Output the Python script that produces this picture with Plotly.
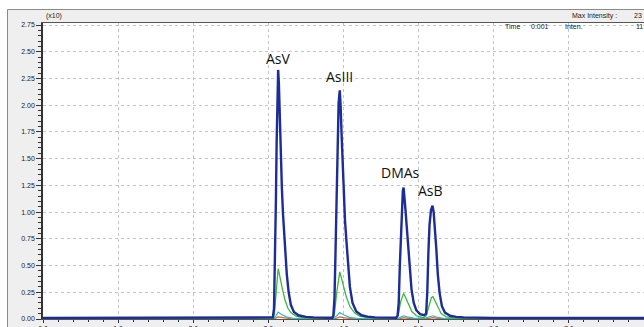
import plotly.graph_objects as go

# ---- data (time in min, intensity x10) ----
t_total = [0.0, 1.0, 2.0, 3.0, 3.06, 3.075, 3.088, 3.10, 3.11, 3.12, 3.13, 3.14, 3.15, 3.165,
           3.18, 3.195, 3.21, 3.225, 3.245, 3.27, 3.30, 3.34, 3.40, 3.50, 3.60, 3.80,
           3.85, 3.865, 3.88, 3.893, 3.905, 3.92, 3.935, 3.95, 3.96, 3.975, 3.99, 4.005, 4.02,
           4.04, 4.06, 4.085, 4.12, 4.17, 4.24, 4.32, 4.42, 4.55,
           4.70, 4.72, 4.735, 4.75, 4.765, 4.78, 4.79, 4.80, 4.81, 4.825, 4.84, 4.86, 4.88, 4.905,
           4.935, 4.97, 5.02, 5.07,
           5.10, 5.115, 5.13, 5.145, 5.165, 5.185, 5.20, 5.215, 5.235, 5.255, 5.28, 5.31, 5.35,
           5.42, 5.50, 5.60, 6.0, 7.0, 8.0]
y_total = [0.01, 0.01, 0.01, 0.01, 0.015, 0.10, 0.50, 1.10, 1.65, 2.10, 2.33, 2.20, 1.92, 1.55,
           1.22, 0.98, 0.80, 0.62, 0.42, 0.25, 0.13, 0.065, 0.035, 0.02, 0.015, 0.012,
           0.012, 0.03, 0.20, 0.60, 1.10, 1.65, 2.02, 2.14, 2.02, 1.72, 1.40, 1.12, 0.92,
           0.72, 0.50, 0.30, 0.15, 0.07, 0.035, 0.022, 0.015, 0.012,
           0.012, 0.03, 0.15, 0.50, 0.85, 1.08, 1.20, 1.23, 1.17, 1.02, 0.88, 0.68, 0.46, 0.28,
           0.15, 0.08, 0.045, 0.035,
           0.05, 0.25, 0.62, 0.88, 1.02, 1.06, 1.00, 0.88, 0.66, 0.42, 0.24, 0.12, 0.06,
           0.03, 0.02, 0.015, 0.01, 0.01, 0.01]

t_green = [0.0, 3.06, 3.08, 3.10, 3.12, 3.13, 3.14, 3.16, 3.19, 3.22, 3.26, 3.30, 3.36, 3.45, 3.60,
           3.86, 3.88, 3.91, 3.94, 3.95, 3.97, 4.00, 4.04, 4.09, 4.15, 4.22, 4.35,
           4.70, 4.73, 4.76, 4.79, 4.80, 4.82, 4.86, 4.91, 4.97, 5.06,
           5.10, 5.14, 5.17, 5.19, 5.21, 5.25, 5.30, 5.37, 5.50, 8.0]
y_green = [0.004, 0.004, 0.05, 0.25, 0.42, 0.47, 0.44, 0.36, 0.27, 0.18, 0.10, 0.06, 0.03, 0.012, 0.006,
           0.006, 0.05, 0.25, 0.42, 0.44, 0.39, 0.30, 0.20, 0.11, 0.055, 0.025, 0.01,
           0.006, 0.04, 0.16, 0.23, 0.24, 0.21, 0.14, 0.07, 0.03, 0.012,
           0.03, 0.14, 0.20, 0.21, 0.18, 0.11, 0.05, 0.02, 0.006, 0.004]

t_cyan = [0.0, 3.07, 3.10, 3.13, 3.17, 3.24, 3.35, 3.87, 3.91, 3.95, 4.00, 4.08, 4.20,
          4.72, 4.77, 4.80, 4.85, 4.95, 5.10, 5.15, 5.19, 5.24, 5.35, 8.0]
y_cyan = [0.003, 0.003, 0.03, 0.065, 0.045, 0.02, 0.005, 0.004, 0.03, 0.06, 0.04, 0.015, 0.004,
          0.004, 0.02, 0.03, 0.02, 0.006, 0.01, 0.022, 0.03, 0.018, 0.005, 0.003]

t_orange = [0.0, 3.08, 3.13, 3.20, 3.30, 3.89, 3.95, 4.02, 4.12, 4.75, 4.80, 4.88, 5.13, 5.19, 5.27, 8.0]
y_orange = [0.002, 0.002, 0.02, 0.01, 0.002, 0.002, 0.02, 0.01, 0.002, 0.002, 0.012, 0.003,
            0.003, 0.012, 0.003, 0.002]

peak_names = ["AsV", "AsIII", "DMAs", "AsB"]
peak_label_t = [3.13, 3.95, 4.76, 5.16]
peak_label_y = [2.44, 2.27, 1.37, 1.20]

# ---- layout helpers (pixel -> paper) ----
W, H = 644, 327
L, R, T, B = 43, 0, 23, 8
PW, PH = W - L - R, H - T - B


def px(x):
    return (x - L) / PW


def py(y):
    return (H - B - y) / PH


fig = go.Figure()
fig.add_trace(go.Scatter(x=t_orange, y=y_orange, mode="lines",
                         line=dict(color="#e0602a", width=1.2), hoverinfo="skip"))
fig.add_trace(go.Scatter(x=t_cyan, y=y_cyan, mode="lines",
                         line=dict(color="#30b8c8", width=1.2), hoverinfo="skip"))
fig.add_trace(go.Scatter(x=t_green, y=y_green, mode="lines",
                         line=dict(color="#3cb83c", width=1.3), hoverinfo="skip"))
fig.add_trace(go.Scatter(x=t_total, y=y_total, mode="lines",
                         line=dict(color="#1c2c98", width=2.4), hoverinfo="skip"))

annotations = []
for name, tx, ty in zip(peak_names, peak_label_t, peak_label_y):
    annotations.append(dict(x=tx, y=ty, xref="x", yref="y", text=name, showarrow=False,
                            font=dict(family="Open Sans", size=14, color="#111111")))

small = dict(family="Liberation Sans", size=7, color="#222222")
annotations += [
    dict(x=px(44), y=py(16), xref="paper", yref="paper", text="(x10)", showarrow=False,
         xanchor="left", yanchor="middle", font=small),
    dict(x=px(570), y=py(16), xref="paper", yref="paper", text="Max Intensity :", showarrow=False,
         xanchor="left", yanchor="middle", font=small),
    dict(x=px(632), y=py(16), xref="paper", yref="paper", text="23", showarrow=False,
         xanchor="left", yanchor="middle", font=small),
    dict(x=px(503), y=py(27), xref="paper", yref="paper", text="Time", showarrow=False,
         xanchor="left", yanchor="middle", font=small),
    dict(x=px(529), y=py(27), xref="paper", yref="paper", text="0.001", showarrow=False,
         xanchor="left", yanchor="middle", font=small),
    dict(x=px(563), y=py(27), xref="paper", yref="paper", text="Inten.", showarrow=False,
         xanchor="left", yanchor="middle", font=small),
    dict(x=px(634), y=py(27), xref="paper", yref="paper", text="11", showarrow=False,
         xanchor="left", yanchor="middle", font=small),
]

shapes = [
    # white outer strips
    dict(type="rect", xref="paper", yref="paper", x0=px(-5), x1=px(7), y0=py(340), y1=py(-5),
         fillcolor="white", line=dict(width=0), layer="below"),
    dict(type="rect", xref="paper", yref="paper", x0=px(-5), x1=px(660), y0=py(9), y1=py(-5),
         fillcolor="white", line=dict(width=0), layer="below"),
    # panel border
    dict(type="line", xref="paper", yref="paper", x0=px(7.5), x1=px(7.5), y0=py(340), y1=py(9.5),
         line=dict(color="#8a8a8a", width=1)),
    dict(type="line", xref="paper", yref="paper", x0=px(7.5), x1=px(660), y0=py(9.5), y1=py(9.5),
         line=dict(color="#8a8a8a", width=1)),
]

fig.update_layout(
    width=W, height=H,
    margin=dict(l=L, r=R, t=T, b=B, pad=0, autoexpand=False),
    paper_bgcolor="#efefef", plot_bgcolor="white",
    showlegend=False,
    annotations=annotations,
    shapes=shapes,
    xaxis=dict(range=[0, 8.0], dtick=1, tick0=0, tickformat=".1f", automargin=False,
               showgrid=True, gridcolor="#c4c4c4", griddash="dot", gridwidth=1,
               showline=True, linecolor="#555555", linewidth=1, mirror=True,
               ticks="outside", ticklen=3, tickcolor="#333333",
               minor=dict(dtick=0.2, ticks="outside", ticklen=2, tickcolor="#333333", showgrid=False),
               tickfont=dict(family="Liberation Sans", size=7, color="#222222"),
               zeroline=False, fixedrange=True),
    yaxis=dict(range=[0, 2.769], dtick=0.25, tick0=0, tickformat=".2f", automargin=False,
               showgrid=True, gridcolor="#c4c4c4", griddash="dot", gridwidth=1,
               showline=True, linecolor="#333333", linewidth=1.5,
               ticks="outside", ticklen=5, tickcolor="#333333",
               minor=dict(dtick=0.05, ticks="outside", ticklen=3, tickcolor="#333333", showgrid=False),
               tickfont=dict(family="Liberation Sans", size=7, color="#222222"),
               zeroline=False, fixedrange=True),
)

fig.write_html("out.html", config={"displayModeBar": False},
               post_script="document.body.style.margin='0';document.body.style.overflow='hidden';")
